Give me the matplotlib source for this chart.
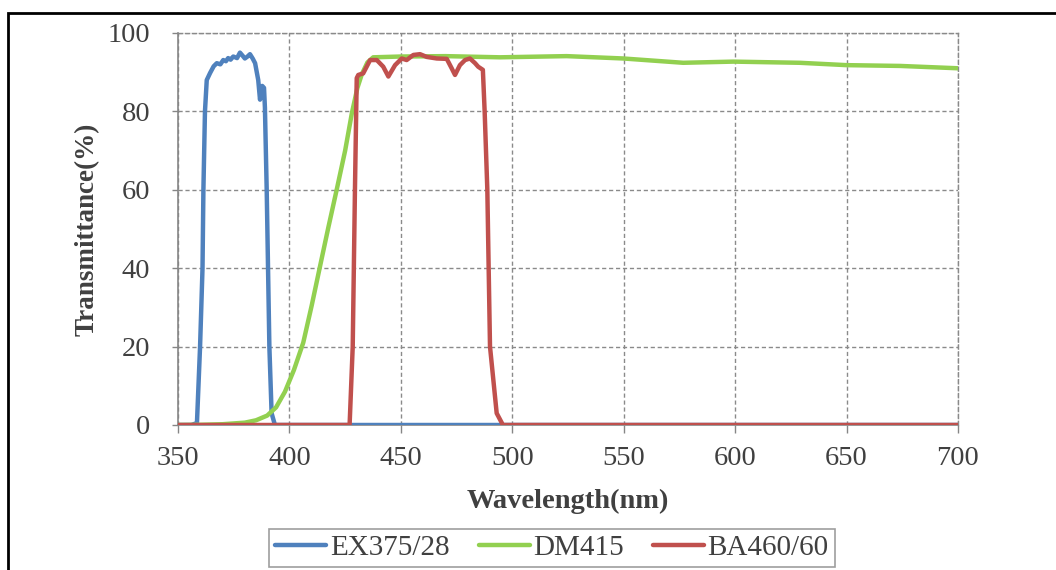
import matplotlib
matplotlib.use("Agg")
import matplotlib.pyplot as plt
from matplotlib.patches import Rectangle
import numpy as np

# ---- data ----
ex_nm = [350, 356, 358.5, 359.9, 361.0, 361.4, 362.1, 362.9, 364.4, 366.0, 367.4, 369.0, 370.3,
         371.5, 372.5, 373.6, 374.8, 376.5, 377.8, 379.0, 380.0, 381.2, 382.3, 383.5, 384.6,
         386.0, 386.8, 387.8, 388.6, 389.0, 389.8, 391.0, 392.0, 393.5, 700]
ex_t = [0, 0, 0.5, 20, 40, 60, 80, 88, 89.8, 91.5, 92.3, 92.0, 93.1,
        92.8, 93.6, 93.2, 94.0, 93.6, 95.0, 94.2, 93.5, 94.0, 94.6, 93.5, 92.3,
        88, 83, 86.5, 86, 81, 60, 20, 3, 0, 0]

dm_nm = [350, 360, 370, 380, 385, 390, 394, 398, 402, 406.2, 410, 413.7, 417.5, 421.2, 425,
         428.0, 430.5, 432.5, 435.0, 437.6, 450, 470, 494.5, 524.4, 549.8, 576.7, 599.2, 629,
         650, 674, 700]
dm_t = [0, 0.05, 0.2, 0.6, 1.2, 2.4, 4.5, 8.5, 14, 21, 30.5, 40.4, 50.5, 60, 70,
        79.5, 86, 89.5, 92.5, 93.8, 94.0, 94.1, 93.8, 94.1, 93.5, 92.4, 92.7, 92.4,
        91.8, 91.6, 91.0]

ba_nm = [350, 427.0, 428.4, 429.4, 430.2, 430.9, 433.1, 436.2, 439.2, 442.1, 444.4, 447.4, 450.4,
         452.6, 455.6, 458.6, 461.6, 466.1, 470.6, 472.8, 474.3, 476.5, 478.8, 481.0, 483.3,
         484.7, 486.8, 487.6, 488.8, 490.0, 493.0, 495.8, 700]
ba_t = [0, 0, 20, 60, 88.5, 89.3, 89.7, 93.1, 93.1, 91.4, 88.9, 91.8, 93.5,
        93.1, 94.4, 94.6, 93.9, 93.5, 93.4, 91.0, 89.3, 91.8, 93.1, 93.5, 92.3,
        91.4, 90.6, 80, 60, 20, 3, 0, 0]

labels = ["EX375/28", "DM415", "BA460/60"]
colors = ["#4F81BD", "#92D050", "#C0504D"]
x_ticks = [350, 400, 450, 500, 550, 600, 650, 700]
y_ticks = [0, 20, 40, 60, 80, 100]

plt.rcParams["font.family"] = ["Liberation Serif", "DejaVu Serif"]

fig = plt.figure(figsize=(10.56, 5.70), dpi=100)
W, H = 1056, 570
ax = fig.add_axes([178 / W, 1 - 425 / H, (958 - 178) / W, (425 - 33) / H])

# outer frame
fig.patches.append(Rectangle((8 / W, -0.1), 1.2, 1 - 13 / H + 0.1, transform=fig.transFigure,
                             fill=False, edgecolor="black", linewidth=2, zorder=0))

for xs, ys, c, lab in zip([ex_nm, dm_nm, ba_nm], [ex_t, dm_t, ba_t], colors, labels):
    ax.plot(xs, ys, color=c, linewidth=3.2, label=lab, solid_capstyle="round",
            solid_joinstyle="round", zorder=3)

ax.set_xlim(350, 700)
ax.set_ylim(0, 100)
ax.set_xticks(x_ticks)
ax.set_yticks(y_ticks)
ax.grid(True, color="#8a8a8a", linestyle=(0, (3, 2)), linewidth=1.0)
for s in ["top", "right"]:
    ax.spines[s].set_linestyle((0, (3, 2)))
    ax.spines[s].set_color("#8a8a8a")
    ax.spines[s].set_linewidth(1.0)
for s in ["left", "bottom"]:
    ax.spines[s].set_color("#868686")
    ax.spines[s].set_linewidth(1.2)

ax.tick_params(axis="both", labelsize=20.5, colors="#404040", labelcolor="#404040")
ax.tick_params(axis="y", length=4, width=1, color="#868686", pad=16)
ax.tick_params(axis="x", length=6, width=1, color="#868686", pad=9)

ax.set_xlabel("Wavelength(nm)", fontsize=20.5, fontweight="bold", color="#404040", labelpad=13)
ax.set_ylabel("Transmittance(%)", fontsize=19.5, fontweight="bold", color="#404040", labelpad=6)

leg = fig.legend(loc="center", bbox_to_anchor=(552 / W, 1 - 548 / H), ncol=3,
                 fontsize=21, frameon=True, fancybox=False, handlelength=1.75,
                 handletextpad=0.12, columnspacing=1.0, borderpad=0.2, borderaxespad=0)
leg.get_frame().set_edgecolor("#868686")
leg.get_frame().set_linewidth(1.2)
leg._legend_box.sep = 0
for t in leg.get_texts():
    t.set_color("#404040")

fig.savefig("out.png", dpi=100)
